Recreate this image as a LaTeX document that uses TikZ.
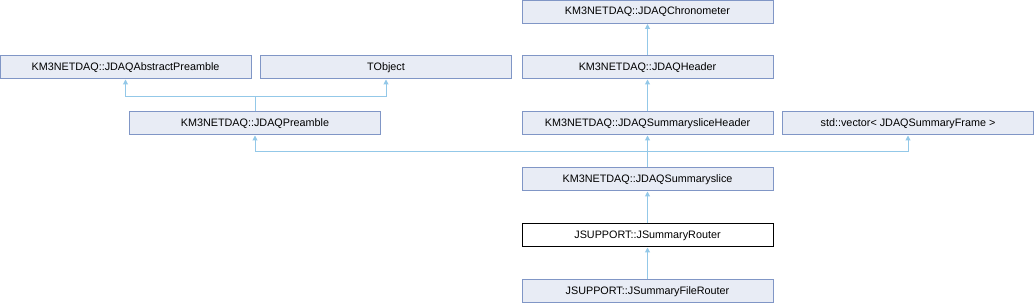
\documentclass[tikz,border=0pt]{standalone}
\usepackage{fontspec}
\setmainfont{Liberation Sans}
\usetikzlibrary{arrows.meta}
\definecolor{boxfill}{HTML}{E8ECF5}
\definecolor{boxdraw}{HTML}{8096C6}
\definecolor{arrcol}{HTML}{93C8E8}
\begin{document}
\begin{tikzpicture}[x=1pt,y=-1pt,
  cls/.style={draw=boxdraw,fill=boxfill,line width=1pt,minimum width=251pt,minimum height=23pt,inner sep=0pt,font=\fontsize{10.8}{13}\selectfont},
  cur/.style={cls,draw=black,fill=white},
  conn/.style={draw=arrcol,line width=1pt},
  arr/.style={conn,-{Triangle[length=5pt,width=5pt]}}]
\useasboundingbox (0,0) rectangle (1034,304);
\node[cls] (chron) at (647.5,12) {KM3NETDAQ::JDAQChronometer};
\node[cls] (header) at (647.5,67.5) {KM3NETDAQ::JDAQHeader};
\node[cls] (abs) at (125.5,67.5) {KM3NETDAQ::JDAQAbstractPreamble};
\node[cls] (tobj) at (386,67.5) {TObject};
\node[cls] (pre) at (255,123.5) {KM3NETDAQ::JDAQPreamble};
\node[cls] (slh) at (647.5,123.5) {KM3NETDAQ::JDAQSummarysliceHeader};
\node[cls] (vec) at (908,123.5) {std::vector< JDAQSummaryFrame >};
\node[cls] (sl) at (647.5,179.5) {KM3NETDAQ::JDAQSummaryslice};
\node[cur] (router) at (647.5,235.5) {JSUPPORT::JSummaryRouter};
\node[cls] (file) at (647.5,291.5) {JSUPPORT::JSummaryFileRouter};
\coordinate (j1) at (255,97);
\coordinate (j2) at (647.5,152);
\draw[arr] (header.north) -- (chron.south);
\draw[arr] (slh.north) -- (header.south);
\draw[conn] (pre.north) -- (j1);
\draw[arr] (j1) -| (abs.south);
\draw[arr] (j1) -| (tobj.south);
\draw[arr] (sl.north) -- (slh.south);
\draw[arr] (j2) -| (pre.south);
\draw[arr] (j2) -| (vec.south);
\draw[arr] (router.north) -- (sl.south);
\draw[arr] (file.north) -- (router.south);
\end{tikzpicture}
\end{document}
